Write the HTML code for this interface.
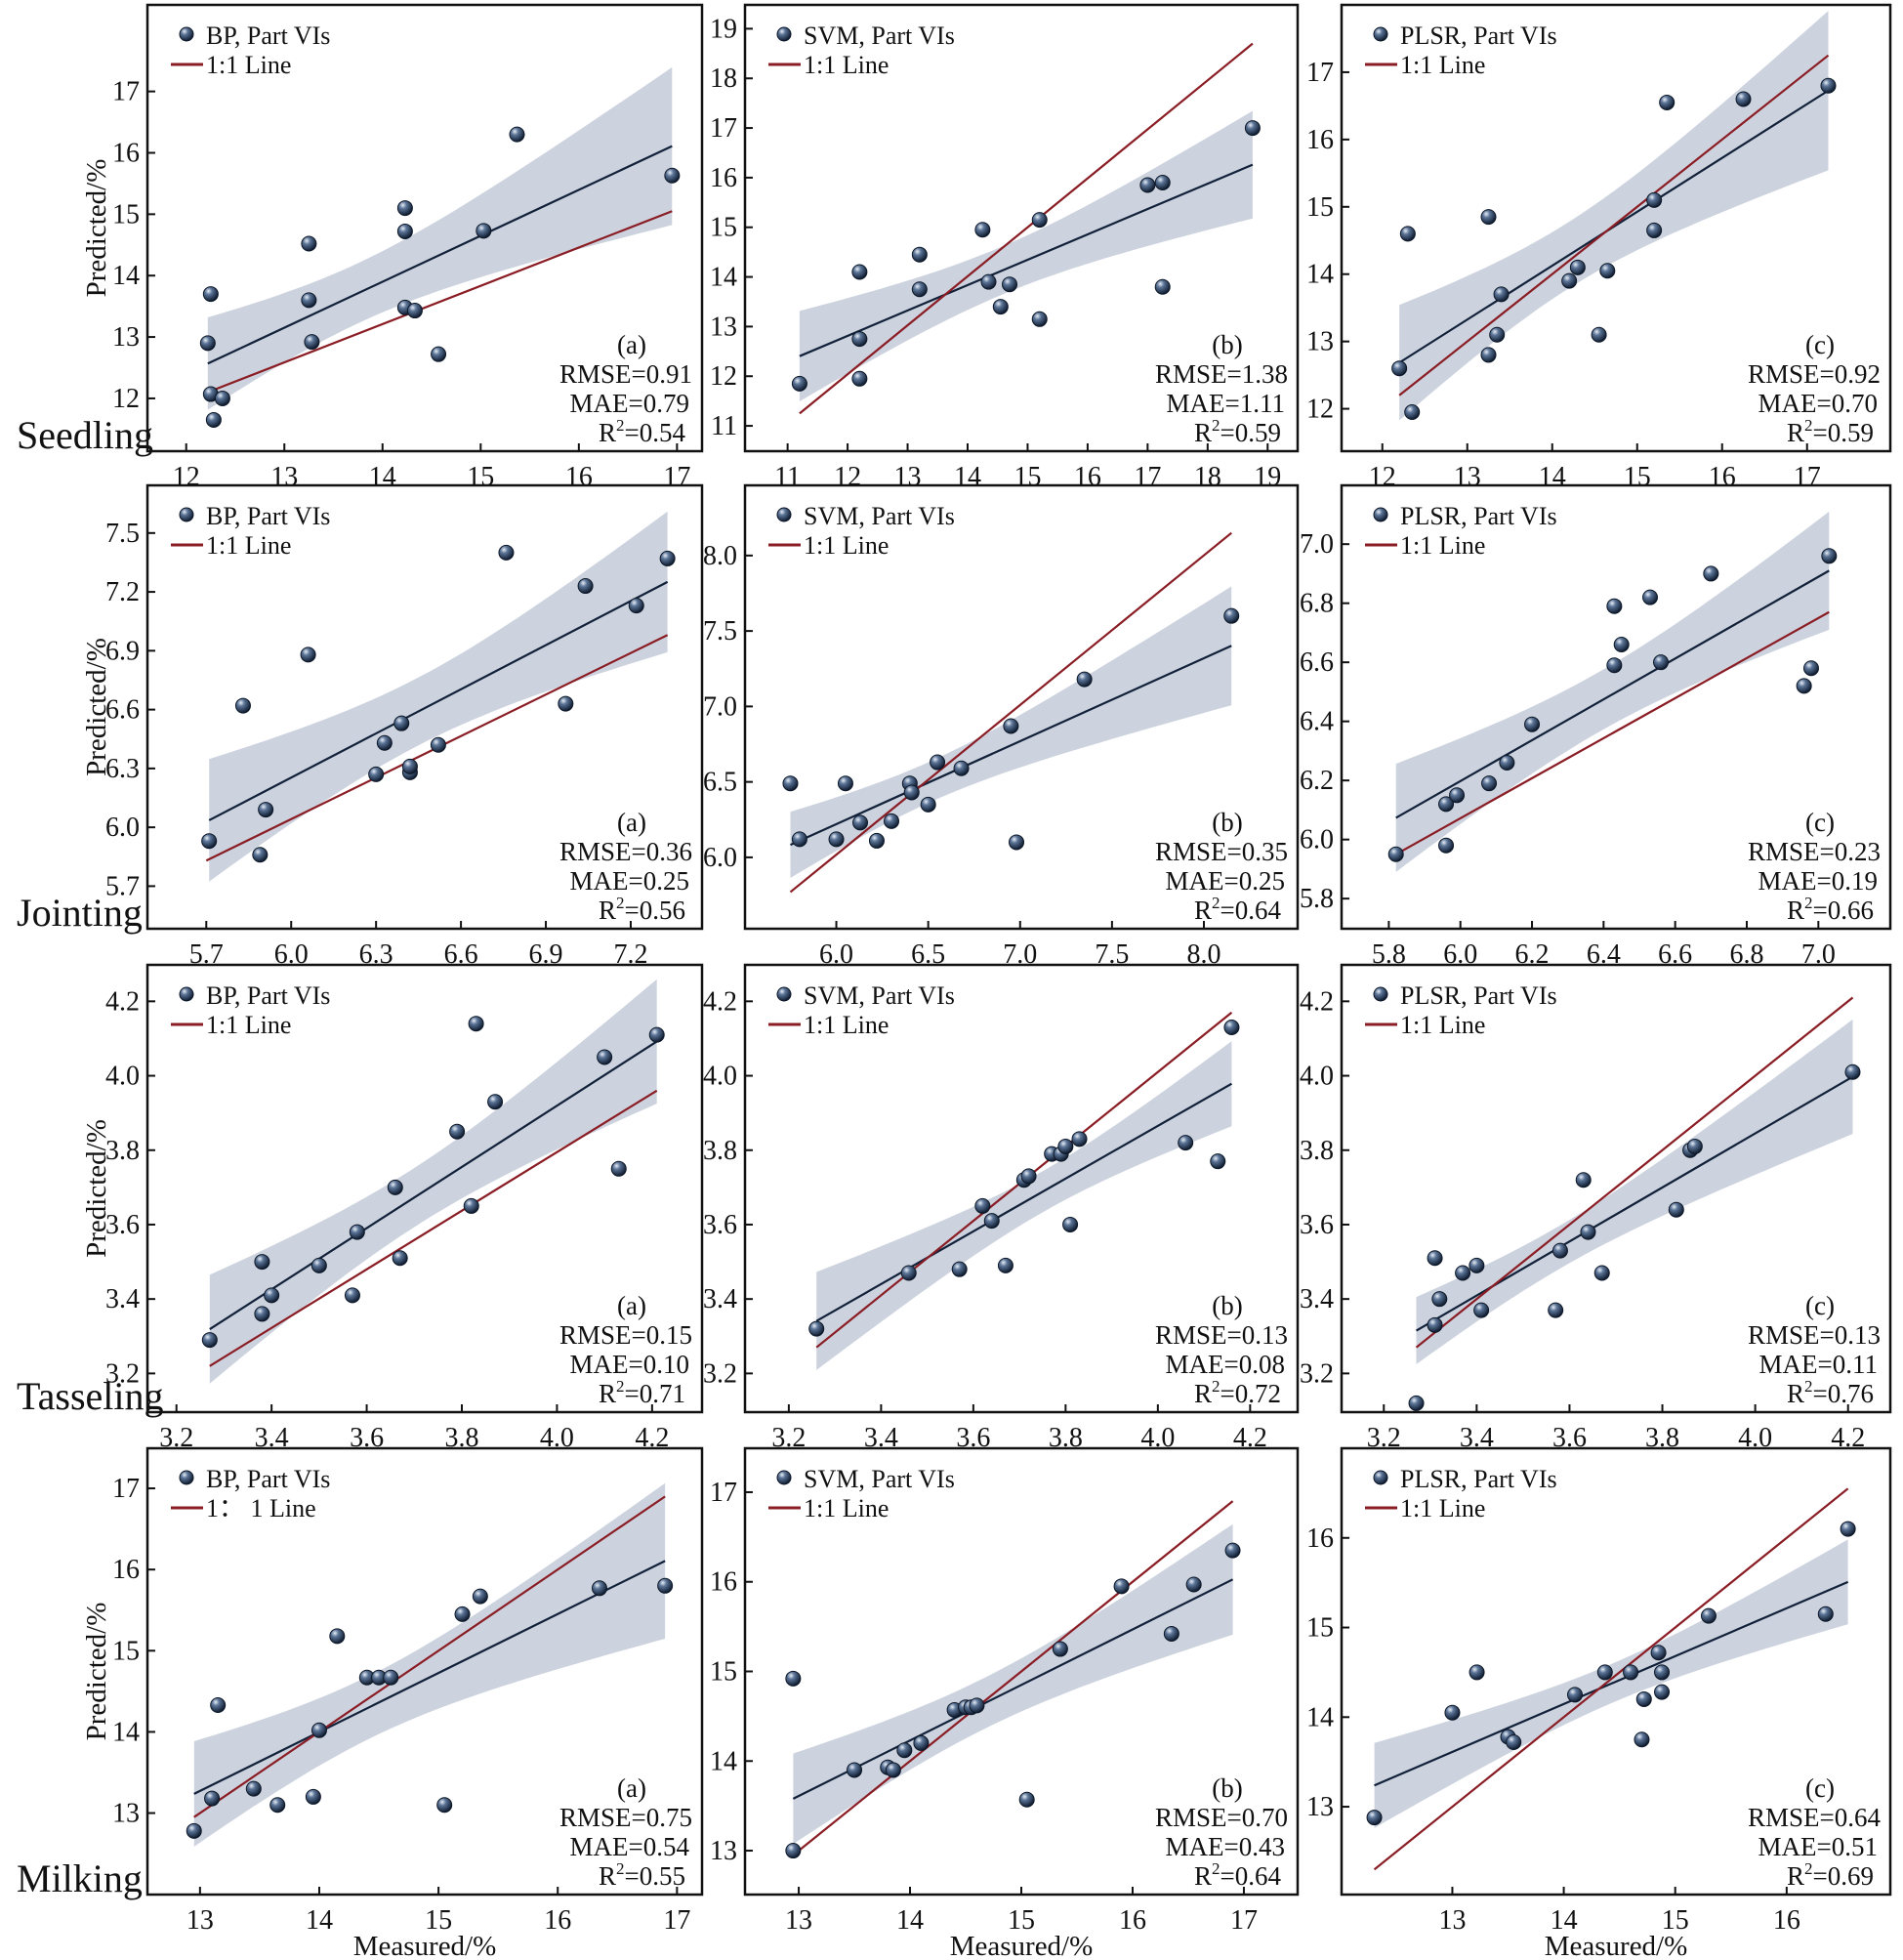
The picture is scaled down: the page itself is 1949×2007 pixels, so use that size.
<!DOCTYPE html>
<html><head><meta charset="utf-8"><style>
html,body{margin:0;padding:0;background:#fff;}
svg{display:block;font-family:"Liberation Serif",serif;}
</style></head><body>
<svg id="fig" width="1949" height="2007" viewBox="0 0 1949 2007" xmlns="http://www.w3.org/2000/svg">
<defs>
<radialGradient id="ball" cx="35%" cy="30%" r="70%">
<stop offset="0%" stop-color="#e8eef6"/><stop offset="35%" stop-color="#5b7497"/><stop offset="100%" stop-color="#0f1c30"/>
</radialGradient>
</defs>
</svg>
<script>
// ---- data arrays ----
const models = ["BP","SVM","PLSR","BP","SVM","PLSR","BP","SVM","PLSR","BP","SVM","PLSR"];
const letters = ["(a)","(b)","(c)","(a)","(b)","(c)","(a)","(b)","(c)","(a)","(b)","(c)"];
const rmse = ["0.91","1.38","0.92","0.36","0.35","0.23","0.15","0.13","0.13","0.75","0.70","0.64"];
const mae = ["0.79","1.11","0.70","0.25","0.25","0.19","0.10","0.08","0.11","0.54","0.43","0.51"];
const r2 = ["0.54","0.59","0.59","0.56","0.64","0.66","0.71","0.72","0.76","0.55","0.64","0.69"];
const stages = ["Seedling","Jointing","Tasseling","Milking"];
const xDomains = [[11.605,17.255],[10.29,19.5],[11.52,17.98],[5.492,7.452],[5.503,8.51],[5.668,7.201],[3.139,4.305],[3.105,4.303],[3.109,4.291],[12.559,17.21],[12.517,17.483],[12.006,16.93]];
const yDomains = [[11.14,18.41],[10.49,19.48],[11.37,18.0],[5.483,7.743],[5.527,8.465],[5.698,7.199],[3.096,4.298],[3.096,4.298],[3.096,4.298],[11.996,17.494],[12.51,17.49],[12.02,17.0]];
const xTicks = [[12,13,14,15,16,17],[11,12,13,14,15,16,17,18,19],[12,13,14,15,16,17],[5.7,6.0,6.3,6.6,6.9,7.2],[6.0,6.5,7.0,7.5,8.0],[5.8,6.0,6.2,6.4,6.6,6.8,7.0],[3.2,3.4,3.6,3.8,4.0,4.2],[3.2,3.4,3.6,3.8,4.0,4.2],[3.2,3.4,3.6,3.8,4.0,4.2],[13,14,15,16,17],[13,14,15,16,17],[13,14,15,16]];
const yTicks = [[12,13,14,15,16,17],[11,12,13,14,15,16,17,18,19],[12,13,14,15,16,17],[5.7,6.0,6.3,6.6,6.9,7.2,7.5],[6.0,6.5,7.0,7.5,8.0],[5.8,6.0,6.2,6.4,6.6,6.8,7.0],[3.2,3.4,3.6,3.8,4.0,4.2],[3.2,3.4,3.6,3.8,4.0,4.2],[3.2,3.4,3.6,3.8,4.0,4.2],[13,14,15,16,17],[13,14,15,16,17],[13,14,15,16]];
const tickDecimals = [0,0,0,1,1,1,1,1,1,0,0,0];
const measured = [
[12.25,12.22,12.25,12.37,12.28,13.25,13.25,13.28,14.23,14.23,14.23,14.33,14.57,15.03,15.37,16.95],
[11.2,12.2,12.2,12.2,13.2,13.2,14.25,14.35,14.55,14.7,15.2,15.2,17.0,17.25,17.25,18.75],
[12.2,12.3,12.35,13.25,13.25,13.35,13.4,14.2,14.3,14.55,14.65,15.2,15.2,15.35,16.25,17.25],
[5.71,5.83,5.89,5.91,6.06,6.30,6.33,6.39,6.42,6.42,6.52,6.76,6.97,7.04,7.22,7.33],
[5.75,5.8,6.0,6.05,6.13,6.22,6.3,6.4,6.41,6.5,6.55,6.68,6.95,6.98,7.35,8.15],
[5.82,5.96,5.96,5.99,6.08,6.13,6.2,6.43,6.43,6.45,6.53,6.56,6.7,6.96,6.98,7.03],
[3.27,3.38,3.38,3.4,3.5,3.57,3.58,3.66,3.67,3.79,3.82,3.83,3.87,4.1,4.13,4.21],
[3.26,3.46,3.57,3.62,3.64,3.67,3.71,3.72,3.77,3.79,3.8,3.81,3.83,4.06,4.13,4.16],
[3.27,3.31,3.31,3.32,3.37,3.4,3.41,3.57,3.58,3.63,3.64,3.67,3.83,3.86,3.87,4.21],
[12.95,13.1,13.15,13.45,13.65,13.95,14.0,14.15,14.4,14.5,14.6,15.05,15.2,15.35,16.35,16.9],
[12.95,12.95,13.5,13.8,13.85,13.95,14.1,14.4,14.5,14.55,14.6,15.05,15.35,15.9,16.35,16.55,16.9],
[12.3,13.0,13.22,13.5,13.55,14.1,14.37,14.6,14.7,14.72,14.85,14.88,14.88,15.3,16.35,16.55]];
const predicted = [
[13.7,12.9,12.07,12.0,11.65,14.52,13.6,12.92,15.1,14.72,13.48,13.43,12.72,14.73,16.3,15.63],
[11.85,14.1,12.75,11.95,14.45,13.75,14.95,13.9,13.4,13.85,15.15,13.15,15.85,15.9,13.8,17.0],
[12.6,14.6,11.95,14.85,12.8,13.1,13.7,13.9,14.1,13.1,14.05,15.1,14.65,16.55,16.6,16.8],
[5.93,6.62,5.86,6.09,6.88,6.27,6.43,6.53,6.28,6.31,6.42,7.40,6.63,7.23,7.13,7.37],
[6.49,6.12,6.12,6.49,6.23,6.11,6.24,6.49,6.43,6.35,6.63,6.59,6.87,6.1,7.18,7.6],
[5.95,6.12,5.98,6.15,6.19,6.26,6.39,6.59,6.79,6.66,6.82,6.6,6.9,6.52,6.58,6.96],
[3.29,3.5,3.36,3.41,3.49,3.41,3.58,3.7,3.51,3.85,3.65,4.14,3.93,4.05,3.75,4.11],
[3.32,3.47,3.48,3.65,3.61,3.49,3.72,3.73,3.79,3.79,3.81,3.6,3.83,3.82,3.77,4.13],
[3.12,3.33,3.51,3.4,3.47,3.49,3.37,3.37,3.53,3.72,3.58,3.47,3.64,3.8,3.81,4.01],
[12.78,13.18,14.33,13.3,13.1,13.2,14.02,15.18,14.67,14.67,14.67,13.1,15.45,15.67,15.77,15.8],
[14.92,13.0,13.9,13.93,13.9,14.12,14.2,14.57,14.6,14.6,14.62,13.57,15.25,15.95,15.42,15.97,16.35],
[12.88,14.05,14.5,13.78,13.72,14.25,14.5,14.5,13.75,14.2,14.72,14.5,14.28,15.13,15.15,16.1]];
const refLineStart = [[12.22,12.1],[11.2,11.25],[12.2,12.2],[5.7,5.83],[5.75,5.77],[5.82,5.95],[3.27,3.22],[3.26,3.27],[3.27,3.27],[12.95,12.95],[12.95,12.95],[12.3,12.3]];
const refLineEnd = [[16.95,15.05],[18.75,18.7],[17.25,17.25],[7.33,6.98],[8.15,8.15],[7.03,6.77],[4.21,3.96],[4.16,4.17],[4.21,4.21],[16.9,16.9],[16.9,16.9],[16.55,16.55]];

// ---- layout ----
const colX = [[151,719],[763,1329],[1374,1936]];
const rowY = [[5,462],[497,951],[988,1446],[1483,1940]];
const NS = "http://www.w3.org/2000/svg";
const svg = document.getElementById('fig');
function mk(tag, attrs, parent){const e=document.createElementNS(NS,tag);for(const k in attrs)e.setAttribute(k,attrs[k]);(parent||svg).appendChild(e);return e;}

for(let p=0;p<12;p++){
  const r=Math.floor(p/3), c=p%3;
  const L=colX[c][0], R=colX[c][1], T=rowY[r][0], B=rowY[r][1];
  const xd=xDomains[p], yd=yDomains[p];
  const sx=v=>L+(v-xd[0])/(xd[1]-xd[0])*(R-L);
  const sy=v=>B-(v-yd[0])/(yd[1]-yd[0])*(B-T);
  const g=mk('g',{});
  
  
  const xs=measured[p], ys=predicted[p], n=xs.length;
  const mx=xs.reduce((a,b)=>a+b,0)/n, my=ys.reduce((a,b)=>a+b,0)/n;
  let sxx=0,sxy=0;for(let i=0;i<n;i++){sxx+=(xs[i]-mx)**2;sxy+=(xs[i]-mx)*(ys[i]-my);}
  const b1=sxy/sxx, b0=my-b1*mx;
  let sse=0;for(let i=0;i<n;i++){sse+=(ys[i]-b0-b1*xs[i])**2;}
  const s=Math.sqrt(sse/(n-2)), t=2.145;
  const x0=Math.min(...xs), x1=Math.max(...xs);
  let up=[],lo=[];
  for(let k=0;k<=40;k++){const x=x0+(x1-x0)*k/40;const yh=b0+b1*x;const h=t*s*Math.sqrt(1/n+(x-mx)**2/sxx);
    up.push(sx(x).toFixed(1)+','+sy(yh+h).toFixed(1));lo.unshift(sx(x).toFixed(1)+','+sy(yh-h).toFixed(1));}
  const band=mk('polygon',{points:up.concat(lo).join(' '),fill:'#cdd3de'},g);
  
  
  const fit=mk('line',{x1:sx(x0),y1:sy(b0+b1*x0),x2:sx(x1),y2:sy(b0+b1*x1),stroke:'#12213a','stroke-width':2.2},g);
  
  
  const ref=mk('line',{x1:sx(refLineStart[p][0]),y1:sy(refLineStart[p][1]),x2:sx(refLineEnd[p][0]),y2:sy(refLineEnd[p][1]),stroke:'#8a1c24','stroke-width':2.2},g);
  
  
  for(let i=0;i<n;i++){
    const pt=mk('circle',{cx:sx(xs[i]),cy:sy(ys[i]),r:7.5,fill:'url(#ball)',stroke:'#0d1828','stroke-width':1},g);
    
    
  }
  const fr=mk('rect',{x:L,y:T,width:R-L,height:B-T,fill:'none',stroke:'#111','stroke-width':2.5},g);
  
  
  const dec=tickDecimals[p];
  xTicks[p].forEach(v=>{const x=sx(v);
    mk('line',{x1:x,y1:B,x2:x,y2:B-8,stroke:'#111','stroke-width':2},g);
    const tl=mk('text',{x:x,y:B+35,'font-size':28,'text-anchor':'middle',fill:'#111'},g);tl.textContent=v.toFixed(dec);
    
    });
  yTicks[p].forEach(v=>{const y=sy(v);
    mk('line',{x1:L,y1:y,x2:L+8,y2:y,stroke:'#111','stroke-width':2},g);
    const tl=mk('text',{x:L-8,y:y+9,'font-size':28,'text-anchor':'end',fill:'#111'},g);tl.textContent=v.toFixed(dec);
    
    });
  const lg=mk('g',{},g);
  
  
  mk('circle',{cx:L+40,cy:T+30,r:7,fill:'url(#ball)',stroke:'#0d1828','stroke-width':1},lg);
  const l1=mk('text',{x:L+60,y:T+40,'font-size':26,fill:'#111'},lg);l1.textContent=models[p]+', Part VIs';
  mk('line',{x1:L+24,y1:T+61,x2:L+57,y2:T+61,stroke:'#8a1c24','stroke-width':3},lg);
  const l2=mk('text',{x:L+60,y:T+70,'font-size':26,fill:'#111'},lg);l2.textContent=(p===9?'1\uFF1A 1 Line':'1:1 Line');
  const st=mk('g',{'font-size':27,fill:'#111'},g);
  
  
  const a=mk('text',{x:R-72,y:B-100,'text-anchor':'middle'},st);a.textContent=letters[p];
  const t1=mk('text',{x:R-10,y:B-70,'text-anchor':'end'},st);t1.textContent='RMSE='+rmse[p];
  const t2=mk('text',{x:R-13,y:B-40,'text-anchor':'end'},st);t2.textContent='MAE='+mae[p];
  const t3=mk('text',{x:R-17,y:B-10,'text-anchor':'end'},st);
  t3.innerHTML='R<tspan font-size="17" dy="-11">2</tspan><tspan dy="11">='+r2[p]+'</tspan>';
  if(c===0){
    const sl=mk('text',{x:17,y:B-3,'font-size':40,fill:'#111'},svg);sl.textContent=stages[r];
    
    
    const yc=(T+B)/2;
    const yl=mk('text',{x:108,y:yc,'font-size':29,'text-anchor':'middle',fill:'#111',transform:'rotate(-90 108 '+yc+')'},svg);yl.textContent='Predicted/%';
    
    
  }
  if(r===3){
    const xl=mk('text',{x:(L+R)/2,y:2002,'font-size':29,'text-anchor':'middle',fill:'#111'},svg);xl.textContent='Measured/%';
    
    
  }
}
</script>
</body></html>
